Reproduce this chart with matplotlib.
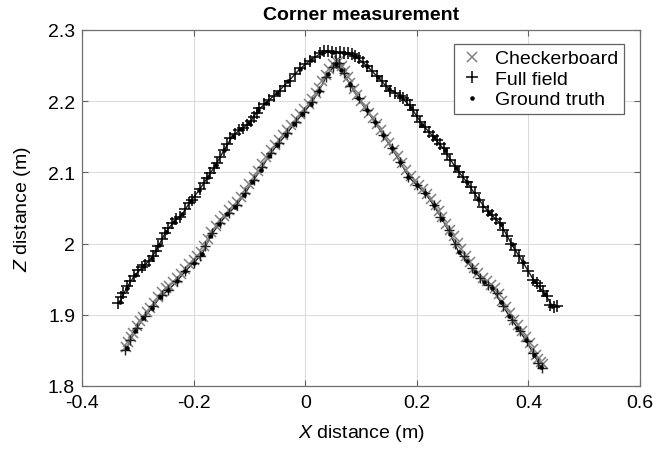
import matplotlib
matplotlib.use('Agg')
from matplotlib import pyplot as plt

plt.rcParams['font.family'] = ['Liberation Sans', 'DejaVu Sans']
plt.rcParams['mathtext.fontset'] = 'custom'
plt.rcParams['mathtext.it'] = 'Liberation Sans:italic'
plt.rcParams['mathtext.rm'] = 'Liberation Sans'

# Full field, upper corner
ff_up_x = [-0.335, -0.331, -0.326, -0.320, -0.314, -0.306, -0.299, -0.293, -0.287, -0.280,
           -0.272, -0.267, -0.263, -0.257, -0.251, -0.245, -0.239, -0.231, -0.224, -0.216,
           -0.209, -0.203, -0.197, -0.189, -0.182, -0.176, -0.170, -0.164, -0.158, -0.152,
           -0.146, -0.140, -0.134, -0.126, -0.119, -0.111, -0.104, -0.098, -0.092, -0.087,
           -0.083, -0.074, -0.065, -0.056, -0.046, -0.037, -0.028, -0.019, -0.010, -0.001,
           0.008, 0.017, 0.026, 0.034, 0.041, 0.048, 0.055, 0.062, 0.069, 0.076,
           0.083, 0.090, 0.097, 0.104, 0.111, 0.119, 0.128, 0.137, 0.145, 0.152,
           0.161, 0.170, 0.176, 0.182, 0.188, 0.194, 0.200, 0.206, 0.214, 0.221,
           0.229, 0.236, 0.242, 0.248, 0.254, 0.260, 0.268, 0.275, 0.283, 0.290,
           0.297, 0.304, 0.312, 0.319, 0.327, 0.334, 0.342, 0.349, 0.355, 0.361,
           0.369, 0.376, 0.384, 0.391, 0.400, 0.409, 0.415, 0.421, 0.427, 0.433,
           0.439, 0.445, 0.451]
ff_up_z = [1.917, 1.925, 1.931, 1.940, 1.947, 1.955, 1.963, 1.967, 1.970, 1.976,
           1.982, 1.989, 1.996, 2.006, 2.015, 2.022, 2.029, 2.034, 2.038, 2.048,
           2.057, 2.061, 2.066, 2.076, 2.085, 2.092, 2.099, 2.106, 2.113, 2.122,
           2.131, 2.140, 2.148, 2.154, 2.159, 2.163, 2.166, 2.172, 2.178, 2.184,
           2.190, 2.196, 2.201, 2.208, 2.215, 2.222, 2.229, 2.238, 2.246, 2.252,
           2.257, 2.262, 2.267, 2.270, 2.271, 2.269, 2.268, 2.269, 2.268, 2.267,
           2.266, 2.264, 2.260, 2.255, 2.249, 2.243, 2.236, 2.229, 2.222, 2.215,
           2.211, 2.208, 2.205, 2.201, 2.194, 2.187, 2.179, 2.171, 2.164, 2.157,
           2.151, 2.145, 2.140, 2.134, 2.126, 2.117, 2.109, 2.101, 2.094, 2.087,
           2.079, 2.071, 2.061, 2.052, 2.046, 2.040, 2.035, 2.029, 2.019, 2.010,
           2.000, 1.991, 1.982, 1.973, 1.961, 1.949, 1.945, 1.940, 1.933, 1.926,
           1.914, 1.911, 1.913]

# Full field, lower corner
ff_low_x = [-0.323, -0.314, -0.302, -0.287, -0.272, -0.257, -0.245, -0.230, -0.215, -0.200,
            -0.188, -0.179, -0.167, -0.152, -0.137, -0.122, -0.107, -0.092, -0.077, -0.062,
            -0.047, -0.032, -0.017, -0.002, 0.013, 0.025, 0.037, 0.049, 0.055, 0.060,
            0.069, 0.081, 0.096, 0.110, 0.125, 0.140, 0.155, 0.170, 0.185, 0.200,
            0.215, 0.230, 0.242, 0.257, 0.269, 0.284, 0.299, 0.313, 0.328, 0.343,
            0.355, 0.370, 0.385, 0.397, 0.409, 0.418, 0.424]
ff_low_z = [1.851, 1.865, 1.881, 1.898, 1.912, 1.928, 1.935, 1.947, 1.961, 1.973,
            1.982, 1.996, 2.015, 2.029, 2.043, 2.054, 2.071, 2.089, 2.108, 2.127,
            2.141, 2.155, 2.171, 2.185, 2.199, 2.215, 2.234, 2.248, 2.253, 2.253,
            2.239, 2.222, 2.204, 2.187, 2.171, 2.152, 2.134, 2.115, 2.094, 2.082,
            2.071, 2.054, 2.038, 2.019, 2.000, 1.982, 1.966, 1.952, 1.942, 1.931,
            1.912, 1.893, 1.877, 1.863, 1.846, 1.832, 1.825]

# Checkerboard, lower corner
cb_x = [-0.322, -0.318, -0.313, -0.308, -0.302, -0.296, -0.290, -0.284, -0.278, -0.271,
        -0.264, -0.257, -0.250, -0.244, -0.237, -0.230, -0.223, -0.215, -0.208, -0.200,
        -0.194, -0.187, -0.181, -0.175, -0.168, -0.160, -0.152, -0.145, -0.137, -0.130,
        -0.122, -0.115, -0.107, -0.100, -0.092, -0.085, -0.077, -0.070, -0.062, -0.055,
        -0.047, -0.040, -0.032, -0.025, -0.017, -0.010, -0.002, 0.006, 0.013, 0.019,
        0.025, 0.031, 0.037, 0.043, 0.049, 0.055, 0.061, 0.066, 0.071, 0.076,
        0.081, 0.087, 0.093, 0.100, 0.107, 0.114, 0.121, 0.129, 0.136, 0.144,
        0.151, 0.159, 0.166, 0.174, 0.181, 0.189, 0.196, 0.204, 0.211, 0.219,
        0.226, 0.234, 0.240, 0.246, 0.253, 0.259, 0.266, 0.273, 0.280, 0.288,
        0.295, 0.303, 0.310, 0.318, 0.325, 0.333, 0.340, 0.347, 0.353, 0.360,
        0.367, 0.374, 0.382, 0.389, 0.396, 0.402, 0.408, 0.413, 0.418, 0.422,
        0.426]
cb_z = [1.855, 1.862, 1.869, 1.875, 1.884, 1.891, 1.897, 1.904, 1.910, 1.917,
        1.925, 1.932, 1.937, 1.940, 1.946, 1.951, 1.958, 1.965, 1.971, 1.977,
        1.982, 1.988, 1.996, 2.006, 2.016, 2.025, 2.033, 2.039, 2.047, 2.053,
        2.058, 2.066, 2.075, 2.084, 2.093, 2.102, 2.112, 2.121, 2.131, 2.138,
        2.145, 2.152, 2.159, 2.167, 2.175, 2.182, 2.189, 2.196, 2.203, 2.211,
        2.219, 2.228, 2.237, 2.245, 2.252, 2.257, 2.256, 2.250, 2.242, 2.234,
        2.226, 2.217, 2.209, 2.200, 2.192, 2.184, 2.176, 2.168, 2.159, 2.150,
        2.141, 2.132, 2.123, 2.113, 2.104, 2.095, 2.088, 2.082, 2.077, 2.070,
        2.062, 2.054, 2.046, 2.037, 2.028, 2.019, 2.010, 2.001, 1.992, 1.983,
        1.974, 1.966, 1.959, 1.952, 1.947, 1.942, 1.937, 1.929, 1.920, 1.911,
        1.902, 1.893, 1.885, 1.877, 1.869, 1.861, 1.852, 1.844, 1.838, 1.834,
        1.831]

# Ground truth, both corners
gt_up_x = [-0.332, -0.320, -0.305, -0.290, -0.275, -0.262, -0.250, -0.235, -0.220, -0.205,
           -0.190, -0.175, -0.160, -0.145, -0.130, -0.115, -0.100, -0.085, -0.070, -0.050,
           -0.030, -0.010, 0.010, 0.030, 0.050, 0.070, 0.090, 0.110, 0.130, 0.150,
           0.170, 0.190, 0.210, 0.230, 0.250, 0.270, 0.290, 0.310, 0.330, 0.350,
           0.370, 0.390, 0.410, 0.430, 0.443]
gt_up_z = [1.918, 1.938, 1.956, 1.968, 1.980, 1.998, 2.016, 2.031, 2.042, 2.060,
           2.075, 2.093, 2.111, 2.132, 2.151, 2.161, 2.169, 2.187, 2.198, 2.212,
           2.228, 2.245, 2.258, 2.268, 2.269, 2.268, 2.263, 2.250, 2.234, 2.217,
           2.208, 2.191, 2.167, 2.150, 2.131, 2.106, 2.086, 2.063, 2.043, 2.028,
           1.999, 1.974, 1.948, 1.929, 1.912]
gt_low_x = [-0.320, -0.305, -0.290, -0.275, -0.260, -0.245, -0.230, -0.215, -0.200, -0.185,
            -0.170, -0.155, -0.140, -0.125, -0.110, -0.095, -0.080, -0.065, -0.050, -0.035,
            -0.020, -0.005, 0.010, 0.025, 0.040, 0.055, 0.065, 0.080, 0.095, 0.110,
            0.125, 0.140, 0.155, 0.170, 0.185, 0.200, 0.215, 0.230, 0.245, 0.260,
            0.275, 0.290, 0.305, 0.320, 0.335, 0.350, 0.365, 0.380, 0.395, 0.410,
            0.422]
gt_low_z = [1.853, 1.877, 1.895, 1.909, 1.925, 1.935, 1.947, 1.961, 1.973, 1.985,
            2.010, 2.027, 2.041, 2.052, 2.068, 2.086, 2.104, 2.123, 2.139, 2.152,
            2.168, 2.182, 2.196, 2.215, 2.238, 2.252, 2.244, 2.224, 2.205, 2.187,
            2.171, 2.152, 2.134, 2.115, 2.094, 2.082, 2.071, 2.054, 2.035, 2.013,
            1.988, 1.975, 1.960, 1.946, 1.937, 1.918, 1.899, 1.882, 1.865, 1.844,
            1.827]

x_ticks = [-0.4, -0.2, 0, 0.2, 0.4, 0.6]
x_tick_labels = ['-0.4', '-0.2', '0', '0.2', '0.4', '0.6']
z_ticks = [1.8, 1.9, 2.0, 2.1, 2.2, 2.3]
z_tick_labels = ['1.8', '1.9', '2', '2.1', '2.2', '2.3']

fig = plt.figure(figsize=(6.62, 4.52), dpi=100)
ax = fig.add_axes([82 / 662, 1 - 387 / 452, 558 / 662, 356 / 452])

# ground truth drawn as a dense dark trace, markers on top
ax.plot(gt_up_x, gt_up_z, '-', color='#202020', linewidth=1.0)
ax.plot(gt_low_x, gt_low_z, '-', color='#202020', linewidth=1.0)
ax.plot(cb_x, cb_z, 'x', color='#808080', markersize=7, markeredgewidth=1.1,
        label='Checkerboard')
ax.plot(ff_up_x, ff_up_z, '+', color='black', markersize=8, markeredgewidth=1.1,
        label='Full field')
ax.plot(ff_low_x, ff_low_z, '+', color='#202020', markersize=7, markeredgewidth=1.0)
ax.plot(gt_up_x, gt_up_z, '.', color='black', markersize=4.5, label='Ground truth')
ax.plot(gt_low_x, gt_low_z, '.', color='black', markersize=4.5)

ax.set_xlim(-0.4, 0.6)
ax.set_ylim(1.8, 2.3)
ax.set_xticks(x_ticks)
ax.set_xticklabels(x_tick_labels)
ax.set_yticks(z_ticks)
ax.set_yticklabels(z_tick_labels)
ax.tick_params(direction='in', top=True, right=True, length=4, width=0.8,
               color='#606060', labelsize=14)
ax.tick_params(axis='x', pad=6)
ax.tick_params(axis='y', pad=5)
ax.grid(True, color='#dcdcdc', linewidth=0.8)
ax.set_axisbelow(True)
for s in ax.spines.values():
    s.set_color('#707070')
    s.set_linewidth(0.9)

ax.set_title('Corner measurement', fontsize=14, fontweight='bold', pad=8)
ax.set_xlabel(r'$\mathit{X}$ distance (m)', fontsize=14, labelpad=8)
ax.set_ylabel(r'$\mathit{Z}$ distance (m)', fontsize=14, labelpad=11)

leg = ax.legend(loc='upper right', bbox_to_anchor=(1 - 16 / 558, 1 - 14 / 356),
                borderaxespad=0, fontsize=14, fancybox=False, framealpha=1,
                edgecolor='#606060', handlelength=1.2, handletextpad=0.6,
                borderpad=0.3, labelspacing=0.15, markerscale=1.0)
leg.get_frame().set_linewidth(0.9)

plt.savefig('out.png', dpi=100)
